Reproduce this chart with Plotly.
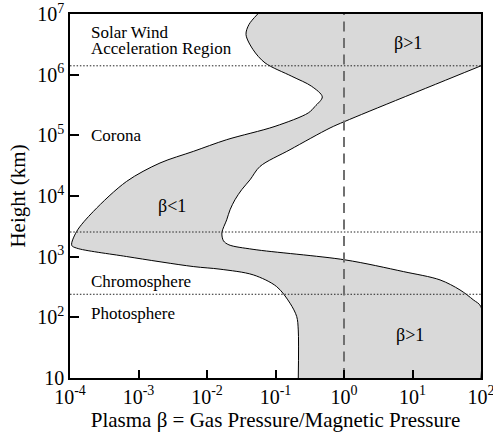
import plotly.graph_objects as go

# Left (minimum beta) boundary, bottom -> top : (beta, height km)
left_beta = [0.215, 0.215, 0.204, 0.163, 0.104, 0.0474, 0.0155, 0.0063, 6.7e-4, 1.25e-4, 1.06e-4,
             1.25e-4, 2.19e-4, 6.7e-4, 2.06e-3, 6.3e-3, 0.0194, 0.0984, 0.301, 0.378, 0.482,
             0.337, 0.173, 0.0703, 0.047, 0.0371, 0.041, 0.055]
left_height = [10, 62, 103, 171, 321, 501, 622, 687, 1005, 1383, 1538,
               2600, 5560, 17400, 35000, 54300, 84800, 140600, 234000, 300600, 430000,
               643000, 940000, 1.565e6, 2.59e6, 4.59e6, 6.71e6, 1e7]

# Right (maximum beta) boundary, bottom -> top (last point continues the straight line past the frame)
right_beta = [100, 100, 77.3, 49.3, 25.2, 7.35, 1.035, 0.047, 0.0209, 0.0174, 0.0165, 0.0194,
              0.0217, 0.0256, 0.0321, 0.0425, 0.0594, 0.163, 0.625, 1.035, 100, 1e4]
right_height = [10, 149, 194, 283, 414, 568, 886, 1321, 1567, 1824, 2470, 4050,
                5930, 8670, 12700, 18500, 30700, 58000, 132200, 170000, 1.4e6, 1.17e7]

# Region boundaries (km)
region_heights = [1.4e6, 2550, 240]
beta_unity = 1.0

x_tickvals = [1e-4, 1e-3, 1e-2, 1e-1, 1e0, 1e1, 1e2]
x_ticktext = ["10<sup>-4</sup>", "10<sup>-3</sup>", "10<sup>-2</sup>", "10<sup>-1</sup>",
              "10<sup>0</sup>", "10<sup>1</sup>", "10<sup>2</sup>"]
y_tickvals = [1e1, 1e2, 1e3, 1e4, 1e5, 1e6, 1e7]
y_ticktext = ["10", "10<sup>2</sup>", "10<sup>3</sup>", "10<sup>4</sup>", "10<sup>5</sup>",
              "10<sup>6</sup>", "10<sup>7</sup>"]

FONT = "Liberation Serif"

fig = go.Figure()

fig.add_trace(go.Scatter(
    x=right_beta, y=right_height, mode="lines",
    line=dict(color="black", width=1, shape="spline", smoothing=0.9),
    hoverinfo="skip", showlegend=False))
fig.add_trace(go.Scatter(
    x=left_beta, y=left_height, mode="lines", fill="tonextx", fillcolor="#d9d9d9",
    line=dict(color="black", width=1, shape="spline", smoothing=0.9),
    hoverinfo="skip", showlegend=False))

for h in region_heights:
    fig.add_trace(go.Scatter(x=[1e-4, 1e2], y=[h, h], mode="lines",
                             line=dict(color="#222222", width=1, dash="1.5px,1.8px"),
                             hoverinfo="skip", showlegend=False))

fig.add_trace(go.Scatter(x=[beta_unity, beta_unity], y=[10, 1e7], mode="lines",
                         line=dict(color="#707070", width=2, dash="10px,6.5px"),
                         hoverinfo="skip", showlegend=False))

labels = [
    ("Solar Wind", 0.046, 0.949, "left", 17),
    ("Acceleration Region", 0.046, 0.9065, "left", 17),
    ("Corona", 0.046, 0.6657, "left", 17),
    ("Chromosphere", 0.046, 0.2649, "left", 17),
    ("Photosphere", 0.046, 0.178, "left", 17),
    ("β<1", 0.248, 0.4713, "center", 18),
    ("β>1", 0.822, 0.9216, "center", 18),
    ("β>1", 0.827, 0.117, "center", 18),
]
for text, x, y, anchor, size in labels:
    fig.add_annotation(text=text, x=x, y=y, xref="paper", yref="paper",
                       xanchor=anchor, yanchor="middle", showarrow=False,
                       font=dict(family=FONT, size=size, color="black"))

fig.update_xaxes(type="log", range=[-4, 2], tickvals=x_tickvals, ticktext=x_ticktext,
                 ticks="inside", ticklen=8, tickwidth=1.5, tickcolor="black",
                 showline=True, linecolor="black", linewidth=1.5, mirror=True,
                 showgrid=False, zeroline=False, automargin=False, ticklabeloverflow="allow",
                 tickfont=dict(family=FONT, size=20, color="black"),
                 title=dict(text="Plasma β = Gas Pressure/Magnetic Pressure",
                            font=dict(family=FONT, size=21, color="black"), standoff=6))
fig.update_yaxes(type="log", range=[1, 7], tickvals=y_tickvals, ticktext=y_ticktext,
                 ticks="inside", ticklen=9, tickwidth=1.5, tickcolor="black",
                 showline=True, linecolor="black", linewidth=1.5, mirror=True,
                 showgrid=False, zeroline=False, automargin=False, ticklabeloverflow="allow",
                 tickfont=dict(family=FONT, size=20, color="black"),
                 title=dict(text="Height (km)",
                            font=dict(family=FONT, size=21, color="black"), standoff=6))

fig.update_layout(width=493, height=434, margin=dict(l=70, r=12, t=14, b=56, autoexpand=False),
                  plot_bgcolor="white", paper_bgcolor="white")

fig.write_html("out.html", config={"displayModeBar": False},
               post_script="document.body.style.margin='0';")
